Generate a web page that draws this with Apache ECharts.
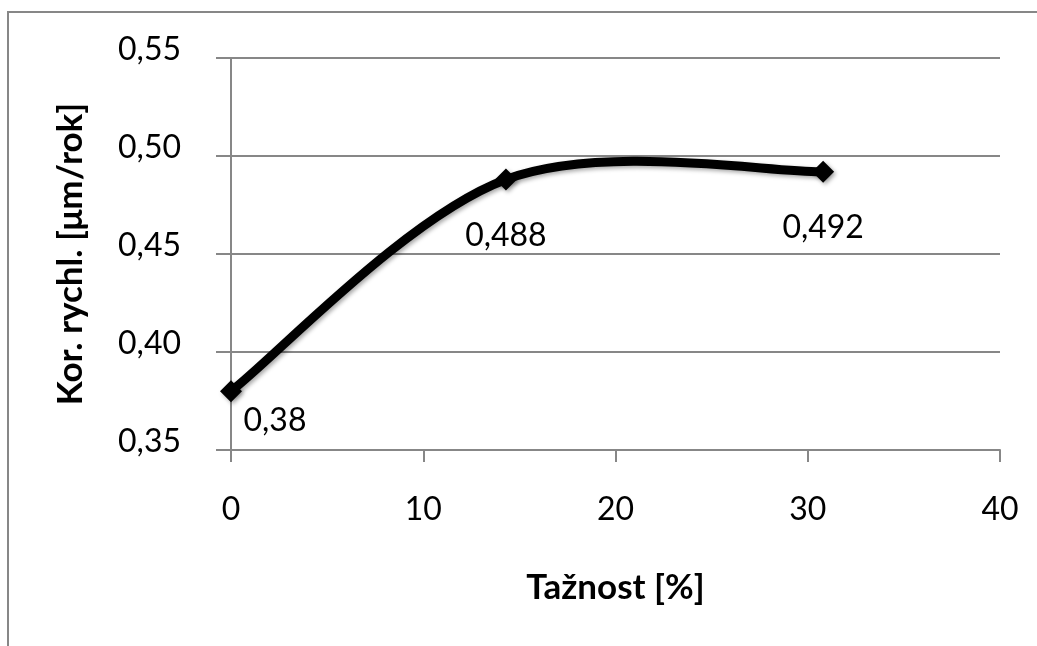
<!DOCTYPE html>
<html>
<head>
<meta charset="utf-8">
<script src="https://cdn.jsdelivr.net/npm/echarts@6/dist/echarts.min.js"></script>
<style>
html,body{margin:0;padding:0;background:#fff;}
#chart{width:1037px;height:646px;}
</style>
</head>
<body>
<div id="chart"></div>
<script>
// Data
const tažnost = [0, 14.3, 30.8];
const korRychl = [0.38, 0.488, 0.492];
const xAxisTitle = 'Tažnost [%]';
const yAxisTitle = 'Kor. rychl. [μm/rok]';
const xTicks = {min: 0, max: 40, interval: 10};
const yTicks = {min: 0.35, max: 0.55, interval: 0.05};

// Label placement (style only)
const labelStyles = [
  {position: 'bottom', distance: 2, offset: [44, 0]},
  {position: 'bottom', distance: 29, offset: [0, 0]},
  {position: 'bottom', distance: 29, offset: [0, 0]}
];

const fmtComma = v => String(v).replace('.', ',');
const FONT = 'Lato, "Open Sans", sans-serif';
const GRAY = '#878787';

const points = tažnost.map((x, i) => [x, korRychl[i]]);
const markerData = points.map((p, i) => ({value: p, label: labelStyles[i]}));

// Smoothed curve (Catmull-Rom style, as in spreadsheet smoothing) through the
// data points, converted to pixels by the chart's own axes.
function renderCurve(params, api) {
  const px = points.map(p => api.coord(p));
  let d = 'M' + px[0][0] + ' ' + px[0][1];
  for (let i = 0; i < px.length - 1; i++) {
    const p0 = px[Math.max(i - 1, 0)];
    const p1 = px[i];
    const p2 = px[i + 1];
    const p3 = px[Math.min(i + 2, px.length - 1)];
    const c1 = [p1[0] + (p2[0] - p0[0]) / 6, p1[1] + (p2[1] - p0[1]) / 6];
    const c2 = [p2[0] - (p3[0] - p1[0]) / 6, p2[1] - (p3[1] - p1[1]) / 6];
    d += ' C' + c1[0] + ' ' + c1[1] + ' ' + c2[0] + ' ' + c2[1] + ' ' + p2[0] + ' ' + p2[1];
  }
  return {
    type: 'path',
    shape: {pathData: d},
    style: {
      fill: 'none', stroke: '#000', lineWidth: 9, lineCap: 'round', lineJoin: 'round',
      shadowColor: 'rgba(0,0,0,0.35)', shadowBlur: 4, shadowOffsetX: 2, shadowOffsetY: 2
    }
  };
}

const chart = echarts.init(document.getElementById('chart'), null, {renderer: 'canvas'});
chart.setOption({
  animation: false,
  backgroundColor: '#fff',
  graphic: [{
    type: 'rect',
    shape: {x: 8, y: 12, width: 1200, height: 800},
    style: {fill: 'none', stroke: GRAY, lineWidth: 2},
    silent: true, z: -1
  }],
  grid: {left: 231, right: 37, top: 58, bottom: 196},
  xAxis: {
    type: 'value',
    min: xTicks.min, max: xTicks.max, interval: xTicks.interval,
    name: xAxisTitle,
    nameLocation: 'middle',
    nameGap: 120,
    nameTextStyle: {fontFamily: FONT, fontWeight: 'bold', fontSize: 35, color: '#000'},
    axisLine: {show: true, lineStyle: {color: GRAY, width: 2}},
    axisTick: {show: true, length: 12, lineStyle: {color: GRAY, width: 2}},
    axisLabel: {fontFamily: FONT, fontSize: 32, color: '#000', margin: 44},
    splitLine: {show: false}
  },
  yAxis: {
    type: 'value',
    min: yTicks.min, max: yTicks.max, interval: yTicks.interval,
    name: yAxisTitle,
    nameLocation: 'middle',
    nameGap: 143,
    nameTextStyle: {fontFamily: FONT, fontWeight: 'bold', fontSize: 35, color: '#000'},
    axisLine: {show: true, lineStyle: {color: GRAY, width: 2}},
    axisTick: {show: true, length: 15, lineStyle: {color: GRAY, width: 2}},
    axisLabel: {fontFamily: FONT, fontSize: 32, color: '#000', margin: 50,
      verticalAlign: 'bottom', lineHeight: 16,
      formatter: v => v.toFixed(2).replace('.', ',')},
    splitLine: {show: true, lineStyle: {color: GRAY, width: 2}}
  },
  series: [{
    type: 'custom',
    data: [points[0]],
    renderItem: renderCurve,
    silent: true,
    clip: false,
    z: 2
  }, {
    type: 'scatter',
    data: markerData,
    symbol: 'diamond',
    symbolSize: 22,
    z: 3,
    itemStyle: {color: '#000', opacity: 1, shadowColor: 'rgba(0,0,0,0.35)', shadowBlur: 4, shadowOffsetX: 2, shadowOffsetY: 2},
    label: {
      show: true,
      fontFamily: FONT, fontSize: 32, color: '#000',
      formatter: p => fmtComma(p.value[1])
    }
  }]
});
</script>
</body>
</html>
